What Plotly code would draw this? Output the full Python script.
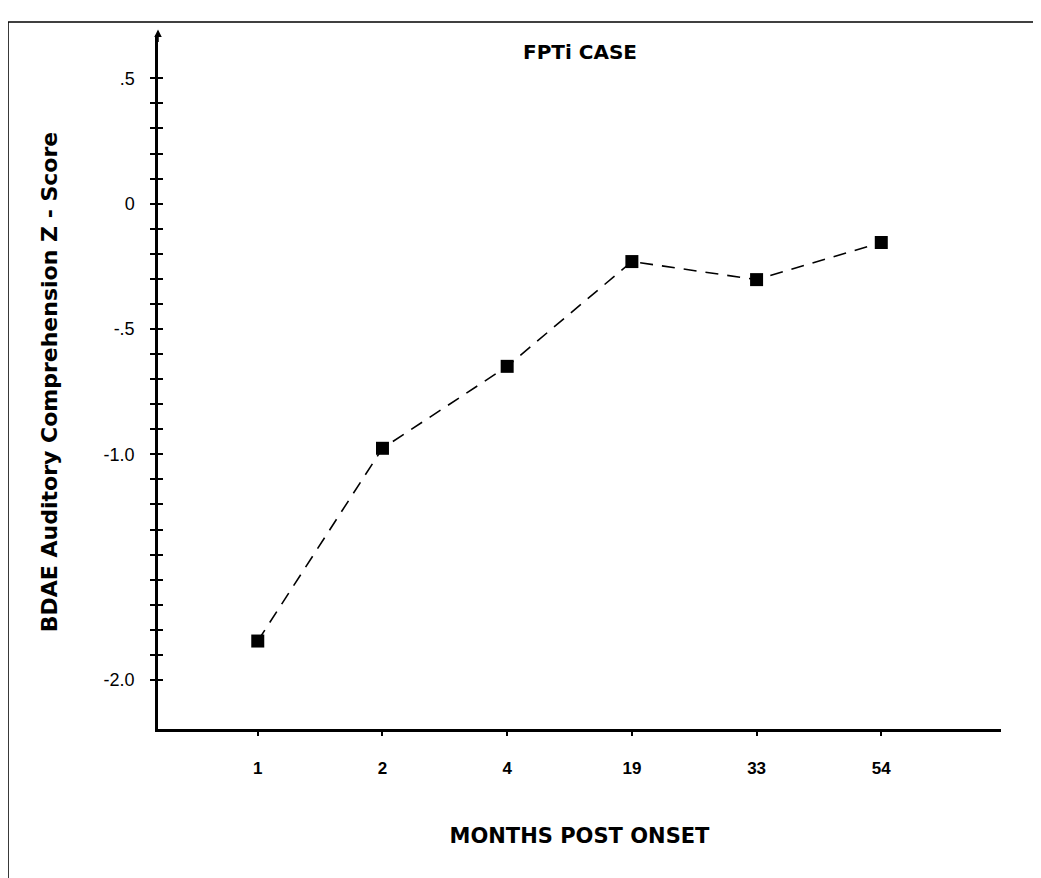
import plotly.graph_objects as go

months = ["1", "2", "4", "19", "33", "54"]
z_scores = [-1.745, -0.976, -0.649, -0.231, -0.303, -0.155]

y_tick_vals = [round(-1.9 + 0.1 * i, 1) for i in range(25)]
y_label_map = {0.5: ".5", 0.0: "0", -0.5: "-.5", -1.0: "-1.0", -1.9: "-2.0"}
y_tick_text = [y_label_map.get(v, "") for v in y_tick_vals]

BOLD_FONT = "DejaVu Sans"

fig = go.Figure()
fig.add_trace(go.Scatter(
    x=months, y=z_scores, mode="lines+markers",
    line=dict(color="black", width=1.6, dash="13px,9px"),
    marker=dict(symbol="square", size=13, color="black"),
    showlegend=False,
))
fig.add_trace(go.Scatter(x=months, y=z_scores, yaxis="y2", mode="none",
                         showlegend=False, hoverinfo="skip"))

yrange = [-2.096, 0.673]
xrange = [-0.8, 5.96]

fig.update_layout(
    width=1041, height=878,
    margin=dict(l=150, r=48, t=27, b=157, autoexpand=False),
    paper_bgcolor="white", plot_bgcolor="white",
    xaxis=dict(
        type="category", range=xrange, showgrid=False, zeroline=False,
        showline=True, linecolor="black", linewidth=2.5,
        ticks="outside", ticklen=4, tickwidth=2, tickcolor="black",
        tickfont=dict(family="Liberation Sans", size=17, color="black", weight="bold"),
        ticklabelstandoff=18,
        title=dict(text="MONTHS POST ONSET", standoff=52,
                   font=dict(family=BOLD_FONT, size=21, color="black", weight="bold")),
    ),
    yaxis=dict(
        range=yrange, showgrid=False, zeroline=False,
        showline=True, linecolor="black", linewidth=2.5,
        tickmode="array", tickvals=y_tick_vals, ticktext=y_tick_text,
        ticks="outside", ticklen=5, tickwidth=2, tickcolor="black",
        tickfont=dict(family="Liberation Sans", size=18, color="black"),
        ticklabelstandoff=12,
        title=dict(text="BDAE Auditory Comprehension Z - Score", standoff=40,
                   font=dict(family=BOLD_FONT, size=22, color="black", weight="bold")),
    ),
    yaxis2=dict(
        overlaying="y", side="left", range=yrange, showgrid=False, zeroline=False,
        showline=False, tickmode="array", tickvals=y_tick_vals, showticklabels=False,
        ticks="inside", ticklen=5, tickwidth=2, tickcolor="black",
    ),
    title=dict(text="FPTi CASE", x=0.5495, xanchor="center", y=0.95, yanchor="middle",
               yref="container", xref="container",
               font=dict(family=BOLD_FONT, size=20, color="black", weight="bold")),
    shapes=[
        dict(type="line", xref="paper", yref="paper", x0=-0.1779, x1=1.1, y0=1.0187, y1=1.0187,
             line=dict(color="black", width=1.5)),
        dict(type="line", xref="paper", yref="paper", x0=-0.1779, x1=-0.1779, y0=1.0187, y1=-0.3,
             line=dict(color="black", width=1.5)),
    ],
    annotations=[
        dict(xref="paper", yref="paper", x=0, y=1.008, ax=0, ay=14, showarrow=True,
             arrowhead=2, arrowsize=1, arrowwidth=1.5, arrowcolor="black", text=""),
    ],
)

fig.write_html("out.html")
